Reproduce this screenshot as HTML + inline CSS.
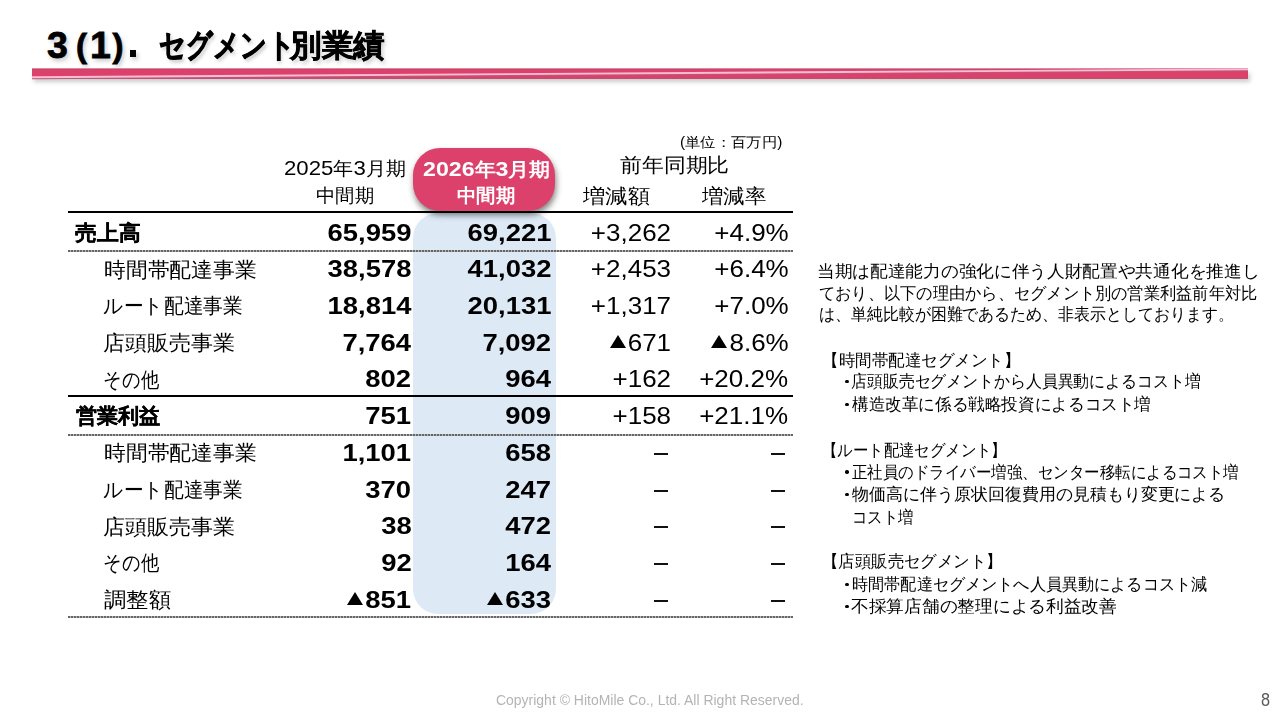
<!DOCTYPE html>
<html><head><meta charset="utf-8">
<style>
html,body{margin:0;padding:0;background:#fff;}
body{width:1280px;height:720px;position:relative;overflow:hidden;font-family:"Liberation Sans",sans-serif;color:#000;}
.a{position:absolute;white-space:nowrap;line-height:1;transform-origin:0 0;}
.tl{position:absolute;white-space:nowrap;line-height:1;font-weight:bold;text-shadow:2px 3px 4px rgba(0,0,0,0.22);-webkit-text-stroke:0.8px #000;}
.pink{position:absolute;left:413.3px;top:148px;width:142px;height:62.5px;border-radius:27px;background:#dc416b;box-shadow:1px 4px 6px rgba(0,0,0,0.5);}
.blue{position:absolute;left:413.3px;top:212.5px;width:142.7px;height:401.5px;border-radius:25px;background:#ddeaf6;}
.hl{position:absolute;left:68px;width:725px;height:2px;background:#000;}
.dl{position:absolute;left:68px;width:725px;height:2px;background:repeating-linear-gradient(90deg,#666 0,#666 2px,#b5b5b5 2px,#b5b5b5 3px);}
.nb{font-size:24px;font-weight:bold;transform:scaleX(1.143);transform-origin:100% 50%;}
.nr{font-size:24px;transform:scaleX(1.083);transform-origin:100% 50%;}
.dash{position:absolute;width:14px;height:2px;background:#111;}
.tri{position:absolute;width:0;height:0;border-left:8.1px solid transparent;border-right:8.1px solid transparent;border-bottom:13.7px solid #000;}
.dot{position:absolute;width:3.5px;height:3.5px;border-radius:50%;background:#000;}
</style></head><body>
<div class="tl" style="left:47px;top:27px;font-size:37.5px;">3</div>
<div class="tl" style="left:76px;top:28.5px;font-size:33px;">(</div>
<div class="tl" style="left:90px;top:27px;font-size:37.5px;">1</div>
<div class="tl" style="left:112.5px;top:28.5px;font-size:33px;">)</div>
<div style="position:absolute;left:129.5px;top:50px;width:6px;height:7px;background:#000;box-shadow:2px 3px 4px rgba(0,0,0,0.22);"></div>
<div class="a" style="left:158.66px;top:28.5px;font-size:32px;font-weight:bold;transform:scaleX(0.8221);text-shadow:2px 3px 4px rgba(0,0,0,0.22);-webkit-text-stroke:1px #000;">セグメント</div>
<div class="a" style="left:289.7px;top:29.6px;font-size:31px;font-weight:bold;transform:scaleX(1.0198);text-shadow:2px 3px 4px rgba(0,0,0,0.22);-webkit-text-stroke:0.55px #000;">別業績</div>
<svg style="position:absolute;left:0;top:0" width="1280" height="100">
<defs><filter id="bs" x="-5%" y="-200%" width="110%" height="500%"><feGaussianBlur stdDeviation="2"/></filter></defs>
<rect x="34" y="73" width="1216" height="9" fill="rgba(0,0,0,0.2)" filter="url(#bs)"/>
<rect x="32" y="68.6" width="1216" height="10.2" fill="#dc416b"/>
<rect x="32" y="68.6" width="1216" height="1.2" fill="#c24a6c"/>
<rect x="32" y="77.6" width="1216" height="1.2" fill="#c24a6c"/>
<line x1="32" y1="78.6" x2="1248" y2="70.6" stroke="#b85a7a" stroke-width="1.2"/>
<line x1="32" y1="77.2" x2="1248" y2="69.4" stroke="#ffbdd5" stroke-width="1.9"/>
</svg>
<div class="blue"></div>
<div class="pink"></div>
<div class="a" style="left:680.3px;top:134.8px;font-size:14px;transform:scaleX(1.0956);">(単位：百万円)</div>
<div class="a" style="left:283.54px;top:156.6px;font-size:19px;transform:scaleX(1.0571);"><span style='font-size:21px'>2025</span>年<span style='font-size:21px'>3</span>月期</div>
<div class="a" style="left:315.88px;top:186.1px;font-size:19px;transform:scaleX(1.0204);">中間期</div>
<div class="a" style="left:422.8px;top:157.7px;font-size:19px;font-weight:bold;transform:scaleX(1.1027);color:#fff;"><span style='font-size:21px'>2026</span>年<span style='font-size:21px'>3</span>月期</div>
<div class="a" style="left:456.78px;top:186.1px;font-size:19px;font-weight:bold;transform:scaleX(1.0204);color:#fff;">中間期</div>
<div class="a" style="left:620.11px;top:155.4px;font-size:20px;transform:scaleX(1.0928);">前年同期比</div>
<div class="a" style="left:582.6px;top:186.0px;font-size:20px;transform:scaleX(1.1155);">増減額</div>
<div class="a" style="left:702.0px;top:186.0px;font-size:20px;transform:scaleX(1.069);">増減率</div>
<div class="hl" style="top:210.5px;"></div>
<div class="dl" style="top:250px;"></div>
<div class="hl" style="top:394.7px;"></div>
<div class="dl" style="top:433.8px;"></div>
<div class="dl" style="top:616px;"></div>
<div class="a nb" style="right:868.8px;top:220.5px;">65,959</div>
<div class="a nb" style="right:728.8px;top:220.5px;">69,221</div>
<div class="a nr" style="right:609.0px;top:220.5px;">+3,262</div>
<div class="a nr" style="right:491.7px;top:220.5px;">+4.9%</div>
<div class="a nb" style="right:868.8px;top:257.2px;">38,578</div>
<div class="a nb" style="right:728.8px;top:257.2px;">41,032</div>
<div class="a nr" style="right:609.0px;top:257.2px;">+2,453</div>
<div class="a nr" style="right:491.7px;top:257.2px;">+6.4%</div>
<div class="a nb" style="right:868.8px;top:293.9px;">18,814</div>
<div class="a nb" style="right:728.8px;top:293.9px;">20,131</div>
<div class="a nr" style="right:609.0px;top:293.9px;">+1,317</div>
<div class="a nr" style="right:491.7px;top:293.9px;">+7.0%</div>
<div class="a nb" style="right:868.8px;top:330.7px;">7,764</div>
<div class="a nb" style="right:728.8px;top:330.7px;">7,092</div>
<div class="a nr" style="right:609.0px;top:330.7px;">671</div>
<div class="a nr" style="right:491.7px;top:330.7px;">8.6%</div>
<div class="a nb" style="right:868.8px;top:367.4px;">802</div>
<div class="a nb" style="right:728.8px;top:367.4px;">964</div>
<div class="a nr" style="right:609.0px;top:367.4px;">+162</div>
<div class="a nr" style="right:491.7px;top:367.4px;">+20.2%</div>
<div class="a nb" style="right:868.8px;top:404.1px;">751</div>
<div class="a nb" style="right:728.8px;top:404.1px;">909</div>
<div class="a nr" style="right:609.0px;top:404.1px;">+158</div>
<div class="a nr" style="right:491.7px;top:404.1px;">+21.1%</div>
<div class="a nb" style="right:868.8px;top:440.8px;">1,101</div>
<div class="a nb" style="right:728.8px;top:440.8px;">658</div>
<div class="dash" style="left:654.0px;top:453.02px;"></div>
<div class="dash" style="left:771.3px;top:453.02px;"></div>
<div class="a nb" style="right:868.8px;top:477.5px;">370</div>
<div class="a nb" style="right:728.8px;top:477.5px;">247</div>
<div class="dash" style="left:654.0px;top:489.74px;"></div>
<div class="dash" style="left:771.3px;top:489.74px;"></div>
<div class="a nb" style="right:868.8px;top:514.3px;">38</div>
<div class="a nb" style="right:728.8px;top:514.3px;">472</div>
<div class="dash" style="left:654.0px;top:526.46px;"></div>
<div class="dash" style="left:771.3px;top:526.46px;"></div>
<div class="a nb" style="right:868.8px;top:551.0px;">92</div>
<div class="a nb" style="right:728.8px;top:551.0px;">164</div>
<div class="dash" style="left:654.0px;top:563.18px;"></div>
<div class="dash" style="left:771.3px;top:563.18px;"></div>
<div class="a nb" style="right:868.8px;top:587.7px;">851</div>
<div class="a nb" style="right:728.8px;top:587.7px;">633</div>
<div class="dash" style="left:654.0px;top:599.90px;"></div>
<div class="dash" style="left:771.3px;top:599.90px;"></div>
<div class="a" style="left:74.8px;top:221.8px;font-size:21px;font-weight:bold;transform:scaleX(1.0361);-webkit-text-stroke:0.3px #000;">売上高</div>
<div class="a" style="left:104.26px;top:258.6px;font-size:21px;transform:scaleX(1.0368);">時間帯配達事業</div>
<div class="a" style="left:103.26px;top:295.3px;font-size:21px;transform:scaleX(0.9363);">ルート配達事業</div>
<div class="a" style="left:103.15px;top:332.0px;font-size:21px;transform:scaleX(1.0488);">店頭販売事業</div>
<div class="a" style="left:102.76px;top:368.7px;font-size:21px;transform:scaleX(0.8694);">その他</div>
<div class="a" style="left:75.9px;top:405.4px;font-size:21px;font-weight:bold;transform:scaleX(1.0072);-webkit-text-stroke:0.3px #000;">営業利益</div>
<div class="a" style="left:104.26px;top:442.1px;font-size:21px;transform:scaleX(1.0382);">時間帯配達事業</div>
<div class="a" style="left:103.26px;top:478.9px;font-size:21px;transform:scaleX(0.9363);">ルート配達事業</div>
<div class="a" style="left:103.15px;top:515.6px;font-size:21px;transform:scaleX(1.0488);">店頭販売事業</div>
<div class="a" style="left:102.76px;top:552.3px;font-size:21px;transform:scaleX(0.8694);">その他</div>
<div class="a" style="left:103.64px;top:589.0px;font-size:21px;transform:scaleX(1.0633);">調整額</div>
<div class="tri" style="left:610.0px;top:334.9px;"></div>
<div class="tri" style="left:711.3px;top:334.8px;"></div>
<div class="tri" style="left:346.9px;top:592.2px;"></div>
<div class="tri" style="left:487.2px;top:592.2px;"></div>
<div class="a" style="left:816.82px;top:263.1px;font-size:16.5px;transform:scaleX(1.0408);">当期は配達能力の強化に伴う人財配置や共通化を推進し</div>
<div class="a" style="left:818.54px;top:285.3px;font-size:16.5px;transform:scaleX(0.955);">ており、以下の理由から、セグメント別の営業利益前年対比</div>
<div class="a" style="left:818.56px;top:306.3px;font-size:16.5px;transform:scaleX(0.9379);">は、単純比較が困難であるため、非表示としております。</div>
<div class="a" style="left:822.11px;top:351.9px;font-size:16.5px;transform:scaleX(0.9718);">【時間帯配達セグメント】</div>
<div class="a" style="left:851.27px;top:373.1px;font-size:16.5px;transform:scaleX(0.9348);">店頭販売セグメントから人員異動によるコスト増</div>
<div class="dot" style="left:845.1px;top:379.70px;"></div>
<div class="a" style="left:852.2px;top:396.25px;font-size:16.5px;transform:scaleX(0.977);">構造改革に係る戦略投資によるコスト増</div>
<div class="dot" style="left:845.1px;top:402.85px;"></div>
<div class="a" style="left:822.23px;top:441.9px;font-size:16.5px;transform:scaleX(0.9061);">【ルート配達セグメント】</div>
<div class="a" style="left:852.4px;top:463.75px;font-size:16.5px;transform:scaleX(0.9104);">正社員のドライバー増強、センター移転によるコスト増</div>
<div class="dot" style="left:845.1px;top:470.35px;"></div>
<div class="a" style="left:852.4px;top:486.25px;font-size:16.5px;transform:scaleX(0.9984);">物価高に伴う原状回復費用の見積もり変更による</div>
<div class="dot" style="left:845.1px;top:492.85px;"></div>
<div class="a" style="left:852.39px;top:508.75px;font-size:16.5px;transform:scaleX(0.9032);">コスト増</div>
<div class="a" style="left:821.69px;top:552.5px;font-size:16.5px;transform:scaleX(0.9646);">【店頭販売セグメント】</div>
<div class="a" style="left:852.05px;top:576.25px;font-size:16.5px;transform:scaleX(0.9496);">時間帯配達セグメントへ人員異動によるコスト減</div>
<div class="dot" style="left:845.1px;top:582.85px;"></div>
<div class="a" style="left:851.46px;top:598.0px;font-size:16.5px;transform:scaleX(1.0426);">不採算店舗の整理による利益改善</div>
<div class="dot" style="left:845.1px;top:604.60px;"></div>
<div class="a" style="left:496.0px;top:693.0px;font-size:14px;transform:scaleX(0.9975);color:#b4b4b4;">Copyright © HitoMile Co., Ltd. All Right Reserved.</div>
<div class="a" style="left:1261.4px;top:692.2px;font-size:17.5px;color:#595959;transform:scaleX(0.93);">8</div>
</body></html>
